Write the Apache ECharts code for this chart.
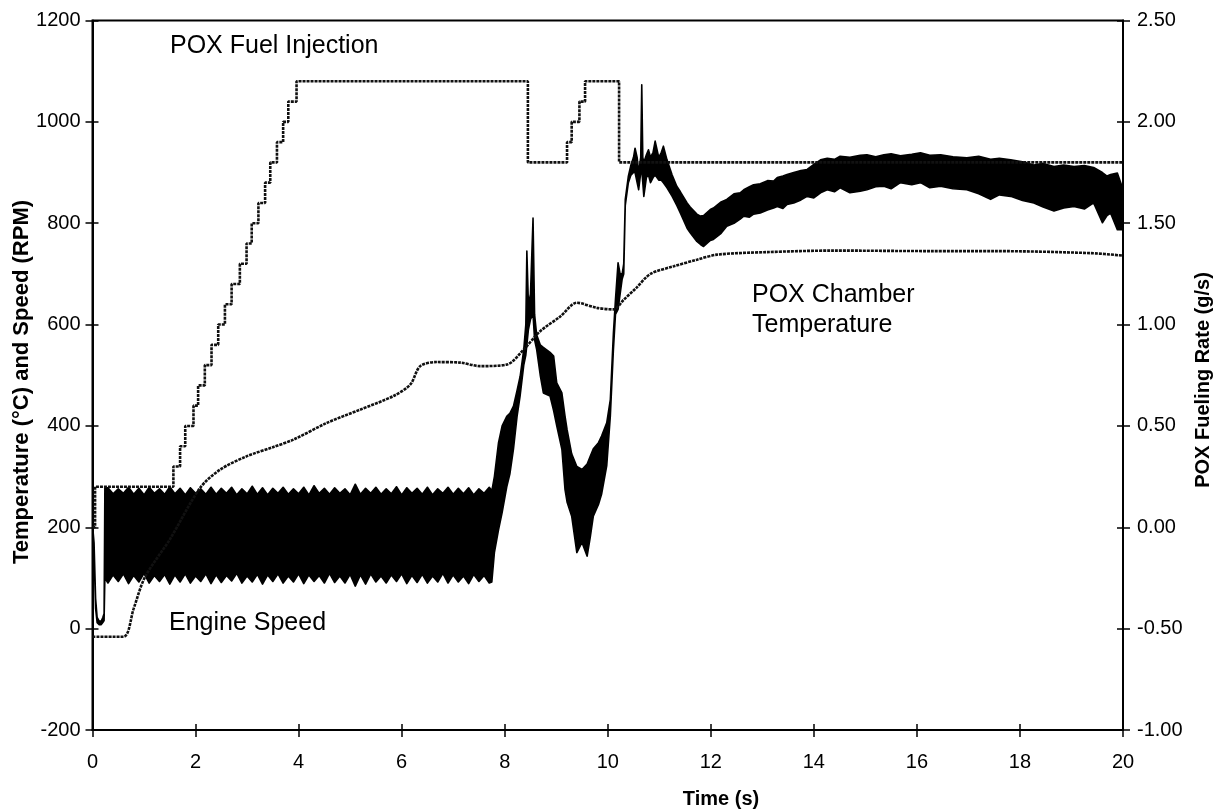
<!DOCTYPE html>
<html><head><meta charset="utf-8">
<script src="https://cdn.jsdelivr.net/npm/echarts@6/dist/echarts.min.js"></script>
<style>html,body{margin:0;padding:0;background:#fff}#c{width:1218px;height:812px}</style>
</head><body><div id="c"></div>
<script>
// ---- Engine speed (RPM): envelope of the dense oscillation ----
const speedT = [
  0, 0.03, 0.06, 0.09, 0.13, 0.17, 0.2, 0.225, 0.24,
  0.3, 0.4, 0.5, 0.6, 0.7, 0.8, 0.9, 1.0, 1.1, 1.2, 1.3, 1.4, 1.5, 1.6, 1.7, 1.8, 1.9, 2.0, 2.1, 2.2,
  2.3, 2.4, 2.5, 2.6, 2.7, 2.8, 2.9, 3.0, 3.1, 3.2, 3.3, 3.4, 3.5, 3.6, 3.7, 3.8, 3.9, 4.0, 4.1, 4.2,
  4.3, 4.4, 4.5, 4.6, 4.7, 4.8, 4.9, 5.0, 5.1, 5.2, 5.3, 5.4, 5.5, 5.6, 5.7, 5.8, 5.9, 6.0, 6.1, 6.2,
  6.3, 6.4, 6.5, 6.6, 6.7, 6.8, 6.9, 7.0, 7.1, 7.2, 7.3, 7.4, 7.5, 7.6, 7.7,
  7.75, 7.8, 7.88, 7.95, 8.04, 8.1, 8.17, 8.24, 8.3, 8.37, 8.41, 8.43, 8.46, 8.5, 8.55, 8.58, 8.62,
  8.69, 8.75, 8.88, 8.95, 9.01, 9.11, 9.17, 9.21, 9.3, 9.4, 9.5, 9.6, 9.66, 9.72, 9.82, 9.88, 9.98,
  10.05, 10.11, 10.15, 10.2, 10.24,
  10.28, 10.31, 10.34, 10.4, 10.45, 10.5, 10.53, 10.57, 10.6, 10.64, 10.66, 10.68, 10.7, 10.75, 10.79,
  10.83, 10.88, 10.92, 10.99, 11.04, 11.08, 11.15,
  11.25, 11.34, 11.41, 11.54, 11.6, 11.73, 11.8, 11.86, 11.99, 12.05, 12.2, 12.31, 12.45, 12.57, 12.64,
  12.75, 12.83, 12.96, 13.1, 13.22, 13.29, 13.4, 13.48, 13.61, 13.75, 13.87, 14.0, 14.13, 14.26, 14.4,
  14.51, 14.7, 14.9, 15.03, 15.2, 15.36, 15.5, 15.68, 15.9, 16.07, 16.25, 16.46, 16.7, 16.97, 17.2,
  17.43, 17.6, 17.82, 18.05, 18.27, 18.45, 18.66, 18.85, 19.05, 19.25, 19.43, 19.6, 19.69, 19.76,
  19.89, 19.98
];
const speedHi = [
  205, 170, 60, 22, 15, 15, 22, 30, 278,
  278, 266, 276, 267, 279, 265, 277, 264, 279, 267, 276, 265, 280, 266, 277, 264, 278, 267, 276, 265,
  279, 265, 277, 267, 279, 264, 276, 266, 281, 265, 278, 264, 277, 267, 279, 265, 276, 266, 279, 264,
  282, 267, 277, 265, 278, 267, 276, 264, 285, 265, 277, 267, 279, 265, 276, 266, 280, 264, 278, 267,
  277, 265, 279, 264, 276, 267, 279, 265, 277, 266, 278, 264, 276, 267, 279,
  272, 300, 367, 400, 419, 425, 439, 470, 498, 551, 600, 745, 640, 660, 810, 620, 580,
  560, 555, 545, 538, 485, 465, 420, 393, 345, 320, 314, 325, 340, 355, 367, 380, 406,
  452, 584, 650, 722, 700,
  700, 720, 847, 893, 915, 930, 948, 930, 900, 930, 1073, 930, 920, 935, 945,
  930, 940, 962, 930, 940, 952, 925,
  895, 873, 862, 840, 832, 818, 814, 815, 827, 830, 842, 847, 858, 860, 866,
  872, 876, 878, 884, 883, 890, 893, 896, 900, 904, 906, 916, 925, 928, 926,
  932, 930, 934, 935, 931, 935, 937, 933, 936, 939, 934, 935, 931, 929, 932,
  926, 928, 925, 921, 915, 918, 912, 915, 912, 914, 910, 900, 893, 896,
  899, 873
];
const speedLo = [
  195, 150, 40, 12, 8, 8, 12, 16, 100,
  90, 106, 93, 108, 89, 105, 92, 109, 90, 105, 93, 107, 88, 106, 92, 108, 90, 104, 93, 108,
  89, 106, 91, 105, 94, 109, 90, 104, 92, 107, 88, 106, 93, 108, 90, 104, 92, 108, 89, 106,
  93, 105, 90, 109, 91, 104, 90, 107, 84, 106, 88, 108, 92, 104, 90, 106, 93, 108, 89, 105,
  91, 107, 90, 104, 92, 109, 90, 106, 92, 104, 89, 107, 93, 105, 90,
  92, 150, 195, 229, 280, 305, 354, 419, 460, 520, 540, 560, 590, 610, 620, 570, 551,
  500, 465, 459, 430, 400, 354, 275, 250, 222, 150, 170, 143, 180, 222, 245, 265, 321,
  419, 551, 620, 630, 660,
  690, 700, 835, 880, 895, 900, 900, 880, 866, 900, 905, 880, 853, 890, 895,
  880, 890, 895, 885, 885, 880, 870,
  853, 835, 820, 790, 781, 764, 758, 754, 766, 768, 780, 794, 800, 808, 814,
  812, 818, 820, 826, 830, 833, 829, 837, 840, 846, 853, 850, 860, 866, 862,
  870, 860, 863, 866, 872, 873, 868, 880, 876, 880, 870, 873, 868, 866, 858,
  847, 856, 853, 845, 840, 832, 824, 830, 833, 828, 840, 801, 815, 820,
  787, 787
];

// ---- POX chamber temperature (deg C) ----
const tempT = [0, 0.6, 0.8, 1.02, 1.5, 2.09, 2.48, 2.99, 3.5, 3.9, 4.55, 5.19, 5.84, 6.17, 6.36, 6.68,
  7.14, 7.52, 8.04, 8.37, 8.69, 9.08, 9.4, 9.79, 10.11, 10.31, 10.55, 10.83, 11.28, 11.73, 12.12,
  13.09, 14.38, 16.26, 17.5, 19.37, 20];
const tempV = [-16, -16, 40, 102, 176, 278, 314, 340, 358, 373, 406, 432, 459, 482, 518, 526,
  525, 518, 521, 551, 587, 616, 643, 633, 630, 649, 672, 700, 715, 728, 738,
  743, 746, 745, 745, 741, 736];

// ---- POX fuel injection rate (g/s), value holds until next change ----
const fuelT = [0, 0.05, 1.57, 1.70, 1.80, 1.96, 2.05, 2.18, 2.31, 2.44, 2.57, 2.70, 2.86, 2.99, 3.09,
  3.22, 3.35, 3.45, 3.58, 3.70, 3.80, 3.96, 8.45, 9.21, 9.30, 9.45, 9.56, 10.22, 20];
const fuelV = [0.0, 0.2, 0.3, 0.4, 0.5, 0.6, 0.7, 0.8, 0.9, 1.0, 1.1, 1.2, 1.3, 1.4, 1.5,
  1.6, 1.7, 1.8, 1.9, 2.0, 2.1, 2.2, 1.8, 1.9, 2.0, 2.1, 2.2, 1.8, 1.8];

const FONT = '"Liberation Sans", Arial, sans-serif';

const speedData = speedT.map((t, i) => [t, speedHi[i], speedLo[i]]);
const tempData = tempT.map((t, i) => [t, tempV[i]]);
const fuelData = fuelT.map((t, i) => [t, fuelV[i]]);

function renderSpeedBand(params, api) {
  if (params.dataIndex !== 0) return null;
  const upper = speedT.map((t, i) => api.coord([t, speedHi[i]]));
  const lower = speedT.map((t, i) => api.coord([t, speedLo[i]])).reverse();
  return {
    type: 'polygon',
    shape: {points: upper.concat(lower)},
    style: {fill: '#000', stroke: '#000', lineWidth: 1.6, lineJoin: 'round'}
  };
}

const tickStyle = {color: '#000', width: 1.5};
const chart = echarts.init(document.getElementById('c'), null, {renderer: 'canvas'});
chart.setOption({
  animation: false,
  backgroundColor: '#fff',
  grid: {left: 92.5, right: 95, top: 20.5, bottom: 82, show: true, borderColor: '#000', borderWidth: 2},
  xAxis: [
    {type: 'value', min: 0, max: 20, interval: 2, position: 'bottom',
     axisLine: {show: true, onZero: false, lineStyle: {color: '#000', width: 2}},
     axisTick: {show: true, length: 7, lineStyle: tickStyle},
     axisLabel: {color: '#000', fontSize: 20, fontFamily: FONT, margin: 22, formatter: v => String(v)},
     splitLine: {show: false}},
    {type: 'value', min: 0, max: 20, interval: 2, position: 'bottom',
     axisLine: {show: false, onZero: false},
     axisTick: {show: true, inside: true, length: 6, lineStyle: tickStyle},
     axisLabel: {show: false}, splitLine: {show: false}}
  ],
  yAxis: [
    {type: 'value', min: -200, max: 1200, interval: 200, position: 'left',
     axisLine: {show: true, onZero: false, lineStyle: {color: '#000', width: 2}},
     axisTick: {show: true, length: 7, lineStyle: tickStyle},
     axisLabel: {color: '#000', fontSize: 20, fontFamily: FONT, margin: 12, showMinLabel: true, showMaxLabel: true,
       formatter: v => String(v)},
     splitLine: {show: false}},
    {type: 'value', min: -1, max: 2.5, interval: 0.5, position: 'right',
     axisLine: {show: true, onZero: false, lineStyle: {color: '#000', width: 2}},
     axisTick: {show: true, length: 7, lineStyle: tickStyle},
     axisLabel: {color: '#000', fontSize: 20, fontFamily: FONT, margin: 14, showMinLabel: true, showMaxLabel: true,
       formatter: v => v.toFixed(2)},
     splitLine: {show: false}},
    {type: 'value', min: -200, max: 1200, interval: 200, position: 'left',
     axisLine: {show: false, onZero: false},
     axisTick: {show: true, inside: true, length: 6, lineStyle: tickStyle},
     axisLabel: {show: false}, splitLine: {show: false}},
    {type: 'value', min: -1, max: 2.5, interval: 0.5, position: 'right',
     axisLine: {show: false, onZero: false},
     axisTick: {show: true, inside: true, length: 6, lineStyle: tickStyle},
     axisLabel: {show: false}, splitLine: {show: false}}
  ],
  series: [
    {name: 'Engine Speed', type: 'custom', xAxisIndex: 0, yAxisIndex: 0, data: speedData,
     encode: {x: 0, y: [1, 2]}, renderItem: renderSpeedBand, clip: true, z: 2},
    {name: 'POX Chamber Temperature', type: 'line', xAxisIndex: 0, yAxisIndex: 0, data: tempData,
     symbol: 'none', smooth: 0.3, lineStyle: {color: '#111', width: 2.6, type: [3, 1]}, z: 3},
    {name: 'POX Fuel Injection', type: 'line', xAxisIndex: 0, yAxisIndex: 1, data: fuelData,
     symbol: 'none', step: 'end', lineStyle: {color: '#111', width: 2.6, type: [3, 1]}, z: 4}
  ],
  graphic: [
    {type: 'text', x: 170, y: 46, z: 10, style: {text: 'POX Fuel Injection', fill: '#000',
      font: '25px ' + FONT, align: 'left', verticalAlign: 'middle'}},
    {type: 'text', x: 169, y: 623, z: 10, style: {text: 'Engine Speed', fill: '#000',
      font: '25px ' + FONT, align: 'left', verticalAlign: 'middle'}},
    {type: 'text', x: 752, y: 295, z: 10, style: {text: 'POX Chamber', fill: '#000',
      font: '25px ' + FONT, align: 'left', verticalAlign: 'middle'}},
    {type: 'text', x: 752, y: 325, z: 10, style: {text: 'Temperature', fill: '#000',
      font: '25px ' + FONT, align: 'left', verticalAlign: 'middle'}},
    {type: 'text', x: 22, y: 382, rotation: Math.PI / 2, z: 10, style: {text: 'Temperature (°C) and Speed (RPM)',
      fill: '#000', font: 'bold 22px ' + FONT, align: 'center', verticalAlign: 'middle'}},
    {type: 'text', x: 1203, y: 380, rotation: Math.PI / 2, z: 10, style: {text: 'POX Fueling Rate (g/s)',
      fill: '#000', font: 'bold 20px ' + FONT, align: 'center', verticalAlign: 'middle'}},
    {type: 'text', x: 721, y: 799, z: 10, style: {text: 'Time (s)', fill: '#000',
      font: 'bold 20px ' + FONT, align: 'center', verticalAlign: 'middle'}}
  ]
});
</script></body></html>
